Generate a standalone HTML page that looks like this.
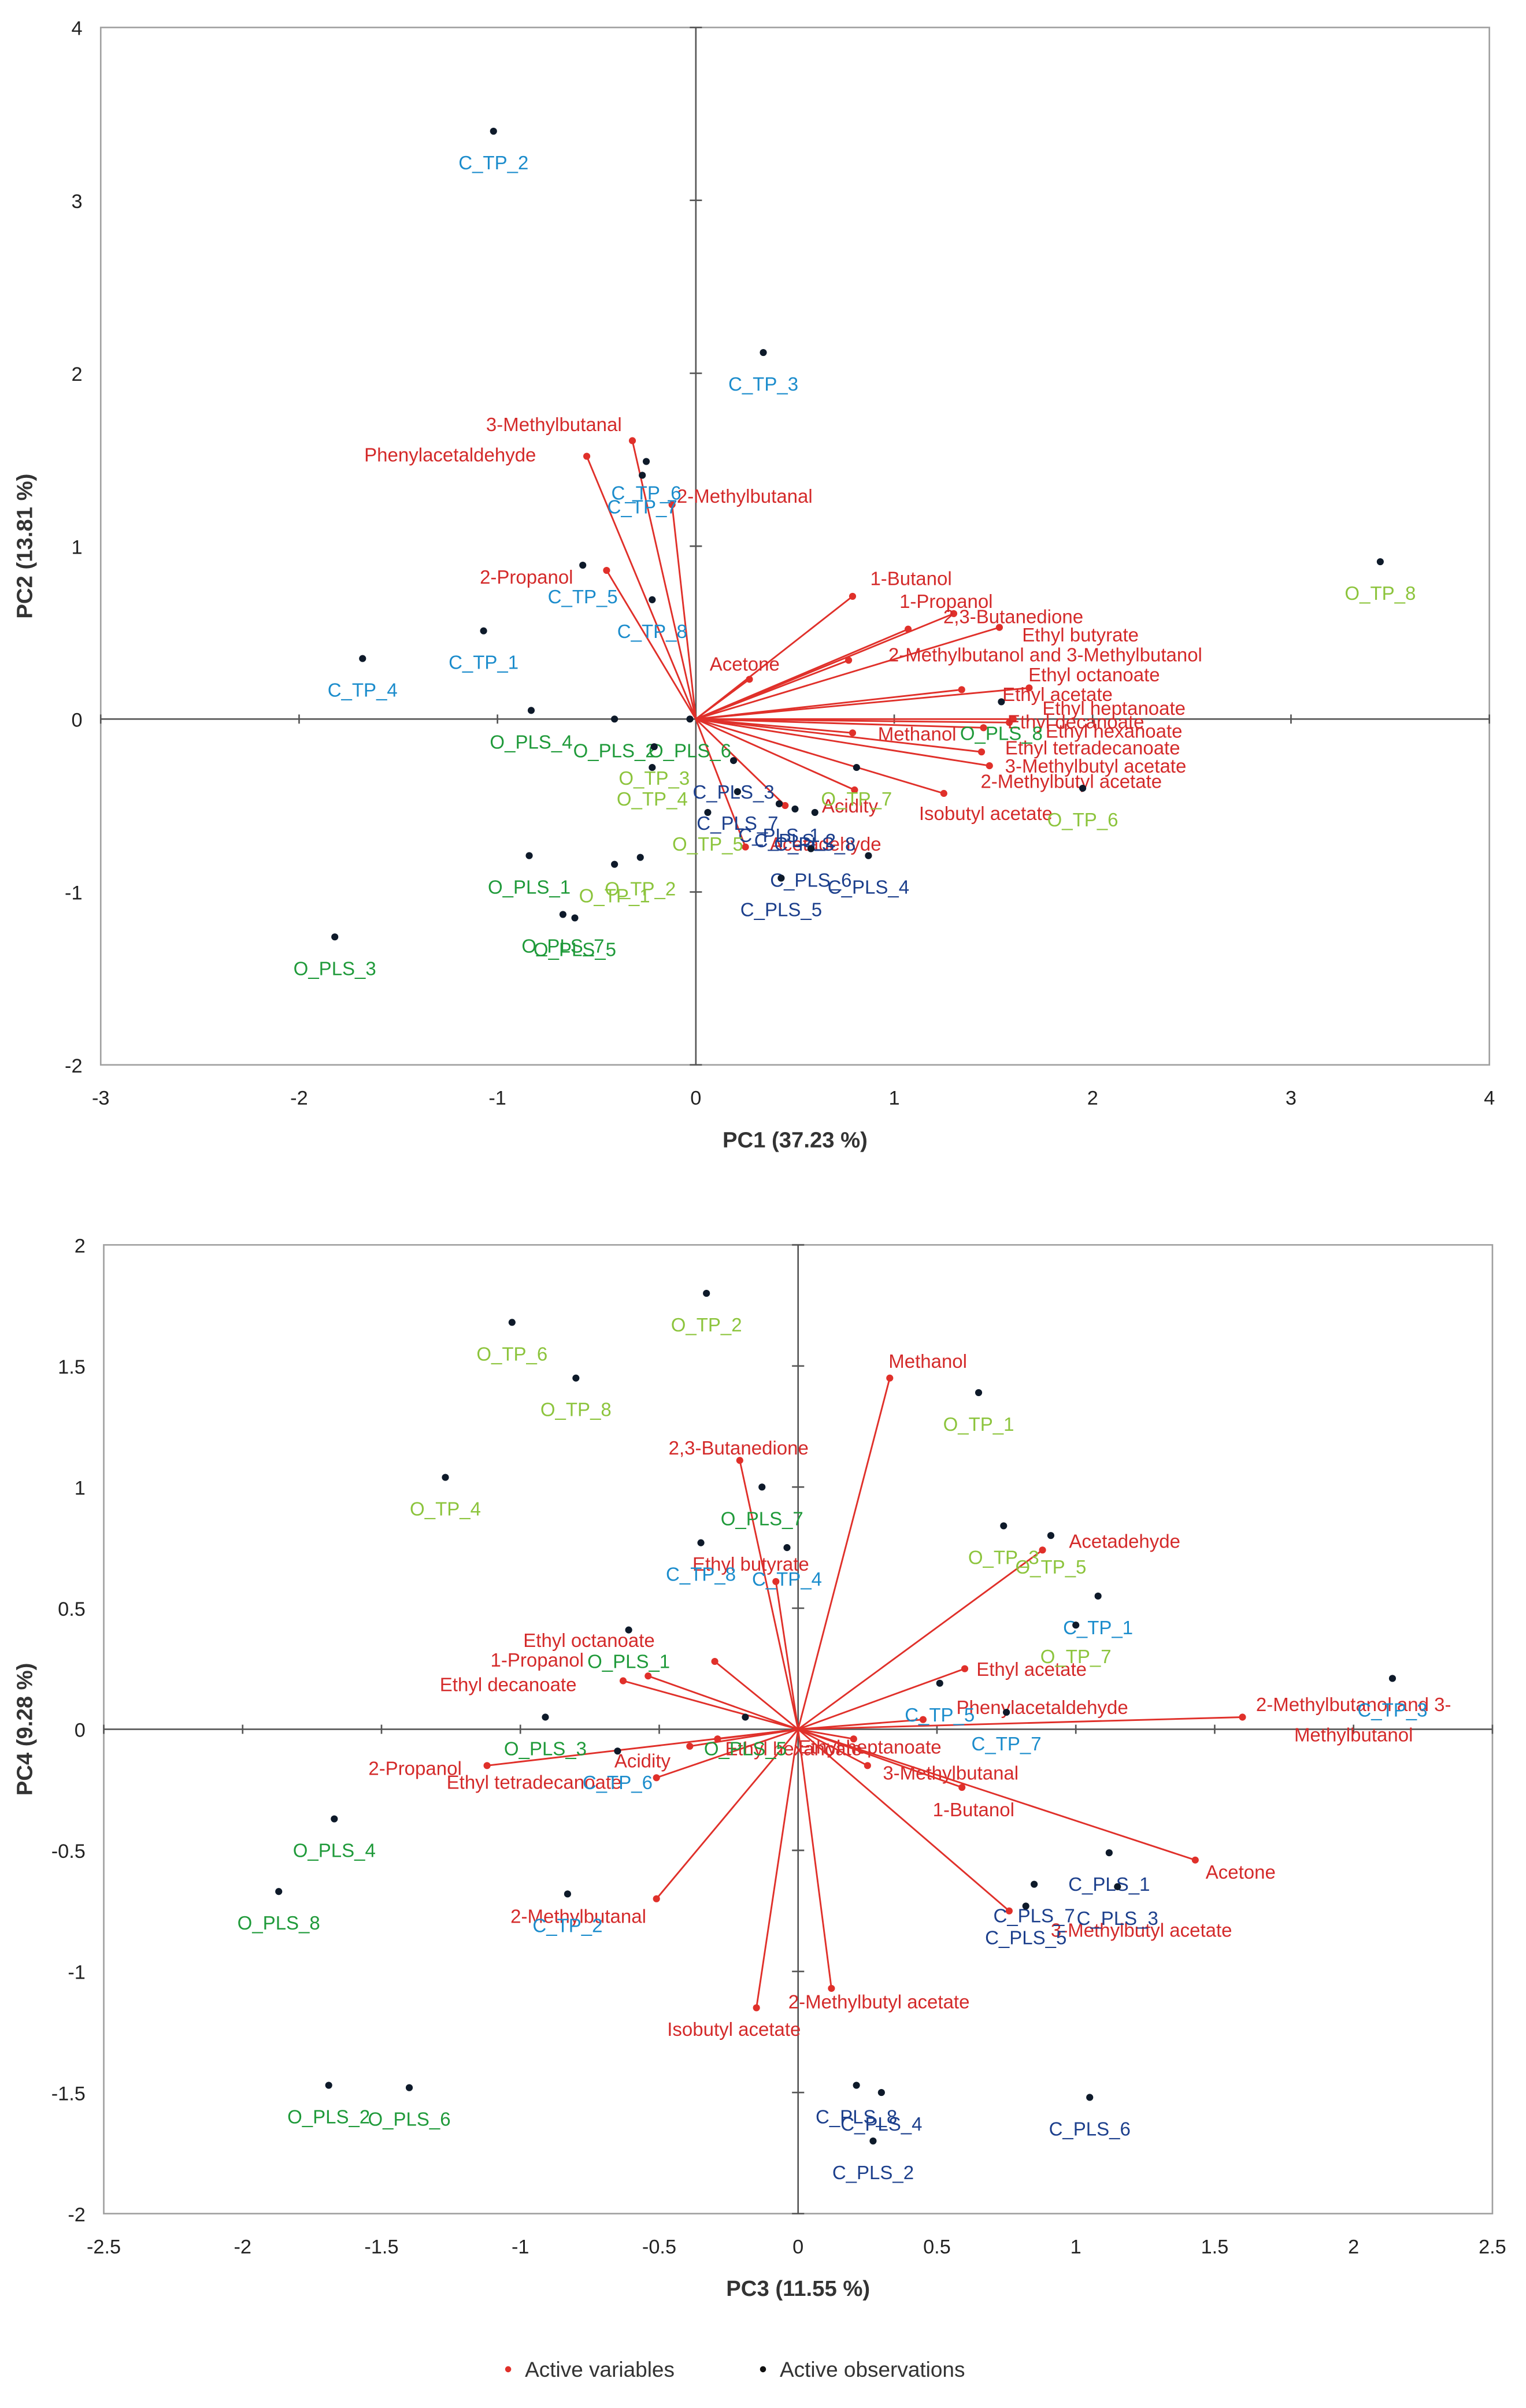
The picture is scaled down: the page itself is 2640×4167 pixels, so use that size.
<!DOCTYPE html>
<html><head><meta charset="utf-8"><style>
html,body{margin:0;padding:0;background:#fff}
svg{display:block}
text{font-family:"Liberation Sans","DejaVu Sans",sans-serif}
</style></head><body>
<svg id="fig" width="2640" height="4167" viewBox="0 0 1000 1578.4" xmlns="http://www.w3.org/2000/svg">
<g id="legend">
<circle cx="333" cy="1553" r="2" fill="#e0302a"/>
<text x="344" y="1558" font-size="14" fill="#333">Active variables</text>
<circle cx="500" cy="1553" r="2" fill="#111"/>
<text x="511" y="1558" font-size="14" fill="#333">Active observations</text>
</g>
</svg>
<script>
// ---------- Chart 1 (PC1 vs PC2) ----------
const c1VarNames=["3-Methylbutanal","Phenylacetaldehyde","2-Methylbutanal","2-Propanol","1-Butanol","1-Propanol","2,3-Butanedione","Ethyl butyrate","2-Methylbutanol and 3-Methylbutanol","Acetone","Ethyl octanoate","Ethyl acetate","Ethyl heptanoate","Ethyl decanoate","Ethyl hexanoate","Methanol","Ethyl tetradecanoate","3-Methylbutyl acetate","2-Methylbutyl acetate","Isobutyl acetate","Acidity","Acetadehyde"];
const c1VarX=[-0.32,-0.55,-0.12,-0.45,0.79,1.07,1.30,1.53,0.77,0.27,1.68,1.34,1.58,1.60,1.45,0.79,1.44,1.48,1.25,0.80,0.45,0.25];
const c1VarY=[1.61,1.52,1.24,0.86,0.71,0.52,0.61,0.53,0.34,0.23,0.18,0.17,-0.02,0.00,-0.05,-0.08,-0.19,-0.27,-0.43,-0.41,-0.50,-0.74];
const c1VarLabelPx=[[363,278],[295,298],[488,325],[345,378],[597,379],[620,394],[664,404],[708,416],[685,429],[488,435],[717,442],[693,455],[730,464],[705,473],[730,479],[601,481],[716,490],[718,502],[702,512],[646,533],[557,528],[541,553]];
const c1ObsNames=["C_TP_2","C_TP_3","O_TP_8","C_TP_6","C_TP_7","C_TP_5","C_TP_8","C_TP_1","C_TP_4","O_PLS_4","O_PLS_2","O_PLS_6","O_TP_3","O_TP_4","C_PLS_3","C_PLS_7","C_PLS_1","C_PLS_2","C_PLS_8","O_TP_5","O_TP_7","O_PLS_8","O_TP_6","C_PLS_6","C_PLS_4","C_PLS_5","O_TP_2","O_TP_1","O_PLS_1","O_PLS_7","O_PLS_5","O_PLS_3"];
const c1ObsX=[-1.02,0.34,3.45,-0.25,-0.27,-0.57,-0.22,-1.07,-1.68,-0.83,-0.41,-0.03,-0.21,-0.22,0.19,0.21,0.42,0.50,0.60,0.06,0.81,1.54,1.95,0.58,0.87,0.43,-0.28,-0.41,-0.84,-0.67,-0.61,-1.82];
const c1ObsY=[3.40,2.12,0.91,1.49,1.41,0.89,0.69,0.51,0.35,0.05,0.00,0.00,-0.16,-0.28,-0.24,-0.42,-0.49,-0.52,-0.54,-0.54,-0.28,0.10,-0.40,-0.75,-0.79,-0.92,-0.80,-0.84,-0.79,-1.13,-1.15,-1.26];
const c1XTicks=[-3,-2,-1,0,1,2,3,4];
const c1YTicks=[-2,-1,0,1,2,3,4];
// ---------- Chart 2 (PC3 vs PC4) ----------
const c2VarNames=["Methanol","2,3-Butanedione","Acetadehyde","Ethyl butyrate","Ethyl octanoate","1-Propanol","Ethyl decanoate","Ethyl acetate","Phenylacetaldehyde","2-Methylbutanol and 3-","2-Propanol","Ethyl tetradecanoate","Acidity","Ethyl hexanoate","Ethyl heptanoate","3-Methylbutanal","1-Butanol","Acetone","2-Methylbutanal","3-Methylbutyl acetate","2-Methylbutyl acetate","Isobutyl acetate"];
const c2VarX=[0.33,-0.21,0.88,-0.08,-0.54,-0.30,-0.63,0.60,0.45,1.60,-1.12,-0.51,-0.39,-0.29,0.20,0.25,0.59,1.43,-0.51,0.76,0.12,-0.15];
const c2VarY=[1.45,1.11,0.74,0.61,0.22,0.28,0.20,0.25,0.04,0.05,-0.15,-0.20,-0.07,-0.04,-0.04,-0.15,-0.24,-0.54,-0.70,-0.75,-1.07,-1.15];
const c2VarLabelPx=[[608,892],[484,949],[737,1010],[492,1025],[386,1075],[352,1088],[333,1104],[676,1094],[683,1119],[887,1117],[272,1159],[350,1168],[421,1154],[520,1146],[570,1145],[623,1162],[638,1186],[813,1227],[379,1256],[748,1265],[576,1312],[481,1330]];
const c2ObsNames=["O_TP_2","O_TP_6","O_TP_8","O_TP_1","O_TP_4","O_PLS_7","C_TP_8","C_TP_4","O_TP_3","O_TP_5","C_TP_1","O_TP_7","O_PLS_1","C_TP_3","C_TP_5","C_TP_7","O_PLS_3","O_PLS_5","C_TP_6","O_PLS_4","O_PLS_8","C_TP_2","C_PLS_1","C_PLS_7","C_PLS_3","C_PLS_5","C_PLS_8","C_PLS_4","C_PLS_2","C_PLS_6","O_PLS_2","O_PLS_6"];
const c2ObsX=[-0.33,-1.03,-0.80,0.65,-1.27,-0.13,-0.35,-0.04,0.74,0.91,1.08,1.00,-0.61,2.14,0.51,0.75,-0.91,-0.19,-0.65,-1.67,-1.87,-0.83,1.12,0.85,1.15,0.82,0.21,0.30,0.27,1.05,-1.69,-1.40];
const c2ObsY=[1.80,1.68,1.45,1.39,1.04,1.00,0.77,0.75,0.84,0.80,0.55,0.43,0.41,0.21,0.19,0.07,0.05,0.05,-0.09,-0.37,-0.67,-0.68,-0.51,-0.64,-0.65,-0.73,-1.47,-1.50,-1.70,-1.52,-1.47,-1.48];
const c2XTicks=[-2.5,-2,-1.5,-1,-0.5,0,0.5,1,1.5,2,2.5];
const c2YTicks=[-2,-1.5,-1,-0.5,0,0.5,1,1.5,2];

const NS="http://www.w3.org/2000/svg";
const svg=document.getElementById('fig');
function mk(tag,attrs,parent,txt){const e=document.createElementNS(NS,tag);for(const k in attrs)e.setAttribute(k,attrs[k]);if(txt!==undefined)e.textContent=txt;parent.appendChild(e);return e;}
function obsColor(n){if(n.startsWith("C_TP"))return"#1b8ccc";if(n.startsWith("C_PLS"))return"#1c3f8c";if(n.startsWith("O_TP"))return"#8cc43c";return"#1f9a3a";}
function drawChart(id,box,xmin,xmax,ymin,ymax,xt,yt,vn,vx,vy,vl,on,ox,oy,xtitle,ytitle){
  const g=mk('g',{},svg);
  
  
  const [L,T,R,B]=box;
  const X=v=>L+(v-xmin)/(xmax-xmin)*(R-L);
  const Y=v=>B-(v-ymin)/(ymax-ymin)*(B-T);
  const fr=mk('rect',{x:L,y:T,width:R-L,height:B-T,fill:'none',stroke:'#a0a0a0','stroke-width':1},g);
  
  
  const ax=mk('line',{x1:L,x2:R,y1:Y(0),y2:Y(0),stroke:'#555','stroke-width':1},g);
  
  
  const ay=mk('line',{x1:X(0),x2:X(0),y1:T,y2:B,stroke:'#555','stroke-width':1},g);
  
  
  xt.forEach(v=>{
    mk('line',{x1:X(v),x2:X(v),y1:Y(0)-3,y2:Y(0)+3,stroke:'#555'},g);
    const t=mk('text',{x:X(v),y:B+26,'font-size':13,'text-anchor':'middle',fill:'#222'},g,String(v));
    
    
  });
  yt.forEach(v=>{
    mk('line',{x1:X(0)-4,x2:X(0)+4,y1:Y(v),y2:Y(v),stroke:'#555'},g);
    const t=mk('text',{x:L-12,y:Y(v)+5,'font-size':13,'text-anchor':'end',fill:'#222'},g,String(v));
    
    
  });
  const xtl=mk('text',{x:(L+R)/2,y:B+54,'font-size':14.5,'font-weight':'bold','text-anchor':'middle',fill:'#333'},g,xtitle);
  
  
  const cy=(T+B)/2;
  const ytl=mk('text',{x:21,y:cy,'font-size':14.5,'font-weight':'bold','text-anchor':'middle',fill:'#333',transform:`rotate(-90 21 ${cy})`},g,ytitle);
  
  
  vn.forEach((n,i)=>{
    const ln=mk('line',{x1:X(0),y1:Y(0),x2:X(vx[i]),y2:Y(vy[i]),stroke:'#e0302a','stroke-width':1.1},g);
    
    
    const d=mk('circle',{cx:X(vx[i]),cy:Y(vy[i]),r:2.3,fill:'#e0302a'},g);
    
    
    const t=mk('text',{x:vl[i][0],y:vl[i][1]+4.5,'font-size':12.5,'text-anchor':'middle',fill:'#d42a2a'},g,n);
    
    
  });
  on.forEach((n,i)=>{
    const d=mk('circle',{cx:X(ox[i]),cy:Y(oy[i]),r:2.3,fill:'#0e1a2a'},g);
    
    
    const t=mk('text',{x:X(ox[i]),y:Y(oy[i])+25,'font-size':12.5,'text-anchor':'middle',fill:obsColor(n)},g,n);
    
    
  });
  return g;
}
drawChart('pc1-pc2-biplot',[66,18,976,698],-3,4,-2,4,c1XTicks,c1YTicks,c1VarNames,c1VarX,c1VarY,c1VarLabelPx,c1ObsNames,c1ObsX,c1ObsY,'PC1 (37.23 %)','PC2 (13.81 %)');
const g2=drawChart('pc3-pc4-biplot',[68,816,978,1451],-2.5,2.5,-2,2,c2XTicks,c2YTicks,c2VarNames,c2VarX,c2VarY,c2VarLabelPx,c2ObsNames,c2ObsX,c2ObsY,'PC3 (11.55 %)','PC4 (9.28 %)');
const extra=mk('text',{x:887,y:1141.5,'font-size':12.5,'text-anchor':'middle',fill:'#d42a2a'},g2,'Methylbutanol');


</script>
</body></html>
